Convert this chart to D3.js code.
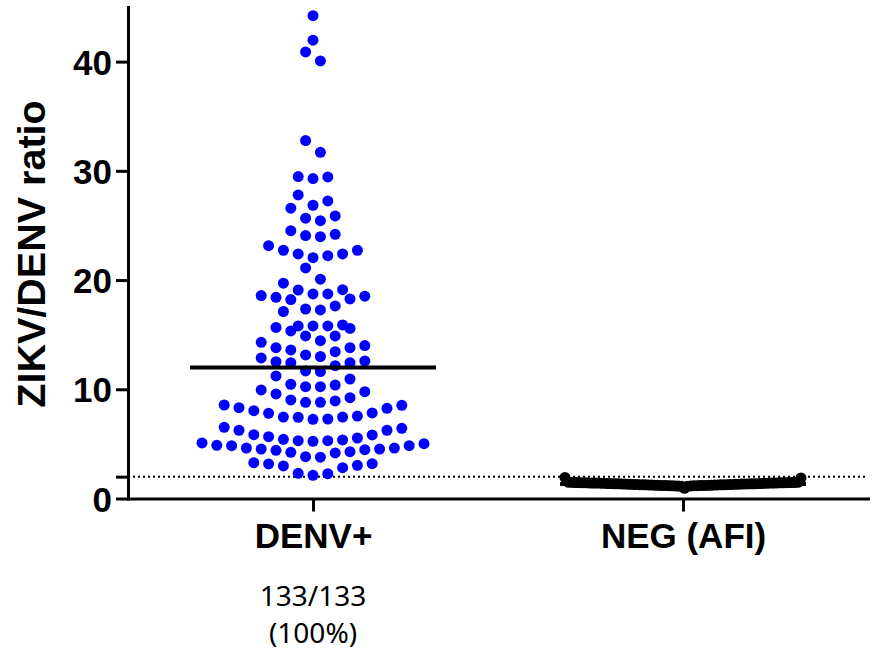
<!DOCTYPE html>
<html>
<head>
<meta charset="utf-8">
<script src="https://d3js.org/d3.v7.min.js"></script>
<style>
  body { margin: 0; background: #fff; }
  svg { display: block; }
  .tick text { font-family: "Liberation Sans", Arial, sans-serif; font-weight: bold; font-size: 35px; fill: #000; }
</style>
</head>
<body>
<svg id="chart"></svg>
<script>
// groups on the x axis
const groups = ["DENV+", "NEG (AFI)"];
const groupColors = ["#0000ff", "#000000"];

// ZIKV/DENV ratio of every DENV+ sample
const denvValues = [
  2.12, 2.27, 2.31, 2.82, 2.98, 3.04, 3.16, 3.19, 3.28,
  3.78, 3.83, 4.17, 4.23, 4.29, 4.41, 4.47, 4.53, 4.53, 4.62, 4.62, 4.84, 4.84, 4.87, 5.02, 5.09,
  5.24, 5.29, 5.29, 5.36, 5.42, 5.54, 5.66, 5.82, 5.84, 6.25, 6.25, 6.43, 6.52,
  7.25, 7.28, 7.44, 7.46, 7.46, 7.55, 7.80, 7.83, 8.04, 8.26, 8.32, 8.53, 8.56,
  8.81, 8.81, 8.93, 9.02, 9.23, 9.57, 9.78, 9.94,
  10.24, 10.24, 10.39, 10.46, 10.94, 11.22,
  11.62, 11.68, 12.16, 12.44, 12.44, 12.53, 12.59, 12.87,
  13.00, 13.14, 13.44, 13.60, 13.81, 13.81, 14.00, 14.30,
  14.45, 14.88, 14.88, 15.34, 15.57, 15.66,
  15.80, 15.80, 15.80, 15.89, 17.12,
  17.26, 17.35, 17.63, 18.21, 18.27, 18.42, 18.52, 18.58,
  18.73, 18.73, 19.09, 19.12, 19.71,
  20.08, 21.11,
  22.05, 22.23, 22.39, 22.39, 22.73, 22.73, 23.15,
  23.97, 24.07, 24.19, 24.52,
  25.44, 25.66, 25.87, 26.58,
  26.85, 27.24, 27.79,
  29.29, 29.44, 29.47,
  31.70, 32.77,
  40.06, 40.89,
  41.96,
  44.21
];

// NEG (AFI) samples, all squeezed together just under the cut-off
const negValues = [
  0.93, 1.12, 1.14, 1.13, 1.15, 1.16, 1.15, 1.17, 1.16, 1.18,
  1.17, 1.19, 1.18, 1.20, 1.19, 1.21, 1.20, 1.22, 1.21, 1.23,
  1.22, 1.24, 1.23, 1.25, 1.24, 1.26, 1.25, 1.27, 1.26, 1.28,
  1.27, 1.29, 1.28, 1.30, 1.29, 1.31, 1.30, 1.32, 1.31, 1.33,
  1.32, 1.33, 1.33, 1.34, 1.34, 1.35, 1.35, 1.36, 1.36, 1.37,
  1.37, 1.38, 1.38, 1.39, 1.39, 1.40, 1.40, 1.41, 1.41, 1.42,
  1.42, 1.42, 1.43, 1.43, 1.44, 1.44, 1.44, 1.45, 1.45, 1.45,
  1.46, 1.46, 1.46, 1.47, 1.47, 1.48, 1.48, 1.49, 1.88, 1.93
];

const medians = [12.0, 1.33];   // horizontal bar for each group
const cutoff = 2;               // dotted line
const yTicks = [0, 2, 10, 20, 30, 40];
const yTickLabels = ["0", "", "10", "20", "30", "40"];
const yMax = 45;
const footnote = ["133/133", "(100%)"];

const [w, h] = [877, 651];
const svg = d3.select("#chart").attr("width", w).attr("height", h);

const x = d3.scalePoint().domain(groups).range([128, 868]).padding(0.5);
const y = d3.scaleLinear().domain([0, yMax]).range([498.5, 7]);

const dotR = 5.5;
const dotGap = 14.8;   // centre distance of dots side by side
const rowSpan = 14.5;  // px of values that share one row
const maxHalf = 118;   // widest a row may spread from the centre

// prism-like scatter: bin into rows, lowest value in the middle, spread out to both sides
function swarm(values, cx) {
  const sorted = values.slice().sort(d3.ascending);
  const rows = [];
  let cur = null;
  sorted.forEach(v => {
    if (!cur || y(cur.start) - y(v) > rowSpan) {
      cur = {start: v, vals: []};
      rows.push(cur);
    }
    cur.vals.push(v);
  });
  const pts = [];
  rows.forEach(r => {
    const n = r.vals.length;
    const gap = n > 1 ? Math.min(dotGap, 2 * maxHalf / (n - 1)) : 0;
    r.vals.forEach((v, i) => {
      let slot;
      if (n % 2) {
        const m = Math.ceil(i / 2);
        slot = i === 0 ? 0 : (i % 2 ? m : -m) * 2;
      } else {
        const m = Math.floor(i / 2);
        slot = (i % 2 === 0 ? 1 : -1) * (2 * m + 1);
      }
      pts.push({v: v, x: cx + slot * gap / 2});
    });
  });
  return pts;
}

// dotted cut-off line
svg.append("line")
  .attr("x1", x.range()[0]).attr("x2", x.range()[1])
  .attr("y1", y(cutoff)).attr("y2", y(cutoff))
  .attr("stroke", "#000").attr("stroke-width", 2)
  .attr("stroke-dasharray", "2,3");

[denvValues, negValues].forEach((vals, gi) => {
  const pts = swarm(vals, x(groups[gi]));
  svg.append("g").selectAll("circle").data(pts).enter().append("circle")
    .attr("cx", d => d.x)
    .attr("cy", d => y(d.v))
    .attr("r", dotR)
    .attr("fill", groupColors[gi]);
});

// median bars
svg.append("g").selectAll("line").data(medians).enter().append("line")
  .attr("x1", (d, i) => x(groups[i]) - 123)
  .attr("x2", (d, i) => x(groups[i]) + 123)
  .attr("y1", d => y(d)).attr("y2", d => y(d))
  .attr("stroke", "#000").attr("stroke-width", 4);

// axes
const yAxis = d3.axisLeft(y).tickValues(yTicks)
  .tickFormat((d, i) => yTickLabels[i])
  .tickSize(12).tickSizeOuter(0).tickPadding(4);
const xAxis = d3.axisBottom(x).tickSize(13).tickSizeOuter(0).tickPadding(12);

const gy = svg.append("g").attr("transform", "translate(128,0)").call(yAxis);
const gx = svg.append("g").attr("transform", `translate(0,${y(0)})`).call(xAxis);
[gx, gy].forEach(g => {
  g.select(".domain").attr("stroke-width", 3).attr("stroke-linecap", "square");
  g.selectAll(".tick line").attr("stroke-width", 3);
});
gy.selectAll(".tick text").attr("dy", "0.36em");

// y title
svg.append("text")
  .attr("transform", "rotate(-90)")
  .attr("x", -254).attr("y", 45)
  .attr("text-anchor", "middle")
  .style("font-family", "'Liberation Sans', Arial, sans-serif")
  .style("font-weight", "bold").style("font-size", "39.5px")
  .text("ZIKV/DENV ratio");

// count under DENV+
svg.append("g").selectAll("text").data(footnote).enter().append("text")
  .attr("x", x(groups[0]))
  .attr("y", (d, i) => 606 + i * 37)
  .attr("text-anchor", "middle")
  .style("font-family", "'Noto Sans', 'Open Sans', sans-serif")
  .style("font-size", "28px")
  .text(d => d);
</script>
</body>
</html>
